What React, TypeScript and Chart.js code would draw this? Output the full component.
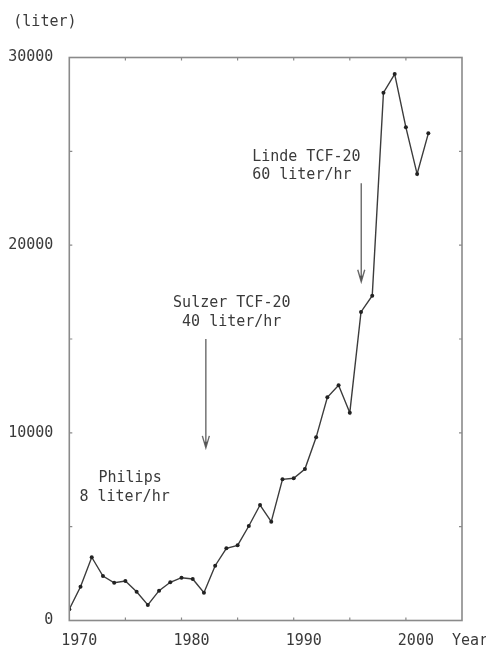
import React, { useEffect, useRef } from "react";
import { Chart, registerables } from "chart.js";

Chart.register(...registerables);

const years = [1970, 1971, 1972, 1973, 1974, 1975, 1976, 1977, 1978, 1979, 1980, 1981, 1982, 1983, 1984, 1985, 1986, 1987, 1988, 1989, 1990, 1991, 1992, 1993, 1994, 1995, 1996, 1997, 1998, 1999, 2000, 2001, 2002];
const liters = [600, 1800, 3370, 2370, 2010, 2100, 1535, 830, 1590, 2035, 2280, 2210, 1480, 2920, 3850, 4005, 5035, 6155, 5265, 7525, 7580, 8075, 9760, 11895, 12535, 11075, 16440, 17310, 28125, 29120, 26280, 23790, 25960];
const xLabelYears = [1970, 1980, 1990, 2000];
const yLabelValues = [0, 10000, 20000, 30000];

const yUnit = "(liter)";
const xUnit = "Year";

// annotation texts, anchored in data units
const notes = [
  { text: "Philips", x: 1972.6, y: 7610 },
  { text: "8 liter/hr", x: 1970.9, y: 6600 },
  { text: "Sulzer TCF-20", x: 1979.25, y: 16935 },
  { text: "40 liter/hr", x: 1980.05, y: 15925 },
  { text: "Linde TCF-20", x: 1986.3, y: 24715 },
  { text: "60 liter/hr", x: 1986.3, y: 23740 },
];
// arrows: x (year), from value, to value (tip)
const arrows = [
  { x: 1982.17, from: 15000, to: 9200 },
  { x: 1996.02, from: 23300, to: 18050 },
];

const FONT = '15px "DejaVu Sans Mono", monospace';
const TEXT = "#3a3a3a";
const AXIS = "#8a8a8a";

const framePlugin = {
  id: "frame",
  afterDraw(chart: any) {
    const { ctx, chartArea: a, scales } = chart;
    const xs = scales.x;
    const ys = scales.y;
    ctx.save();
    ctx.strokeStyle = AXIS;
    ctx.lineWidth = 1.6;
    ctx.strokeRect(a.left, a.top, a.right - a.left, a.bottom - a.top);
    ctx.lineWidth = 1.2;
    const tl = 3;
    ctx.beginPath();
    xs.ticks.forEach((t: any) => {
      const px = xs.getPixelForValue(t.value);
      if (Math.abs(px - a.left) < 1 || Math.abs(px - a.right) < 1) return;
      ctx.moveTo(px, a.bottom);
      ctx.lineTo(px, a.bottom - tl);
      ctx.moveTo(px, a.top);
      ctx.lineTo(px, a.top + tl);
    });
    ys.ticks.forEach((t: any) => {
      const py = ys.getPixelForValue(t.value);
      if (Math.abs(py - a.top) < 1 || Math.abs(py - a.bottom) < 1) return;
      ctx.moveTo(a.left, py);
      ctx.lineTo(a.left + tl, py);
      ctx.moveTo(a.right, py);
      ctx.lineTo(a.right - tl, py);
    });
    ctx.stroke();

    // unit labels
    ctx.font = FONT;
    ctx.fillStyle = TEXT;
    ctx.textBaseline = "middle";
    ctx.textAlign = "left";
    ctx.fillText(yUnit, a.left - 56, a.top - 35.5);
    ctx.fillText(xUnit, a.right - 10, a.bottom + 20.5);

    // annotation texts
    notes.forEach((n) => {
      ctx.fillText(n.text, xs.getPixelForValue(n.x), ys.getPixelForValue(n.y));
    });

    // arrows
    ctx.strokeStyle = "#6a6a6a";
    ctx.fillStyle = "#555";
    ctx.lineWidth = 1.4;
    arrows.forEach((ar) => {
      const x = xs.getPixelForValue(ar.x);
      const y0 = ys.getPixelForValue(ar.from);
      const y1 = ys.getPixelForValue(ar.to);
      ctx.beginPath();
      ctx.moveTo(x, y0);
      ctx.lineTo(x, y1);
      ctx.moveTo(x - 3.5, y1 - 12);
      ctx.lineTo(x, y1);
      ctx.lineTo(x + 3.5, y1 - 12);
      ctx.stroke();
      ctx.beginPath();
      ctx.moveTo(x - 1.8, y1 - 6);
      ctx.lineTo(x, y1);
      ctx.lineTo(x + 1.8, y1 - 6);
      ctx.closePath();
      ctx.fill();
    });
    ctx.restore();
  },
};

export default function App() {
  const ref = useRef<HTMLCanvasElement | null>(null);
  useEffect(() => {
    document.body.style.margin = "0";
    const canvas = ref.current;
    if (!canvas) return;
    const chart = new Chart(canvas, {
      type: "line",
      data: {
        datasets: [
          {
            data: years.map((y, i) => ({ x: y, y: liters[i] })),
            borderColor: "#3c3c3c",
            borderWidth: 1.4,
            pointRadius: 2,
            pointBackgroundColor: "#222",
            pointBorderColor: "#222",
            pointBorderWidth: 0,
            tension: 0,
            fill: false,
          },
        ],
      },
      options: {
        responsive: false,
        animation: false,
        devicePixelRatio: 1,
        layout: { padding: { top: 57.5, right: 24, left: 0, bottom: 0 } },
        plugins: { legend: { display: false }, tooltip: { enabled: false } },
        scales: {
          x: {
            type: "linear",
            min: 1970,
            max: 2005,
            grid: { display: false, drawTicks: false, tickLength: 0 },
            border: { display: false },
            ticks: {
              stepSize: 5,
              autoSkip: false,
              maxRotation: 0,
              labelOffset: 10,
              padding: 11.5,
              color: TEXT,
              font: { family: '"DejaVu Sans Mono", monospace', size: 15 },
              callback: (v: any) => (xLabelYears.includes(Number(v)) ? String(v) : ""),
            },
            afterFit: (s: any) => {
              s.height = 31.5;
            },
          },
          y: {
            type: "linear",
            min: 0,
            max: 30000,
            grid: { display: false, drawTicks: false, tickLength: 0 },
            border: { display: false },
            ticks: {
              stepSize: 5000,
              autoSkip: false,
              padding: 16,
              color: TEXT,
              font: { family: '"DejaVu Sans Mono", monospace', size: 15 },
              callback: (v: any) => (yLabelValues.includes(Number(v)) ? String(v) : ""),
            },
            afterFit: (s: any) => {
              s.width = 69.3;
            },
          },
        },
      },
      plugins: [framePlugin],
    });
    return () => chart.destroy();
  }, []);
  return (
    <div style={{ position: "absolute", left: 0, top: 0, width: 486, height: 652, background: "#fff" }}>
      <canvas ref={ref} width={486} height={652} style={{ display: "block" }} />
    </div>
  );
}
